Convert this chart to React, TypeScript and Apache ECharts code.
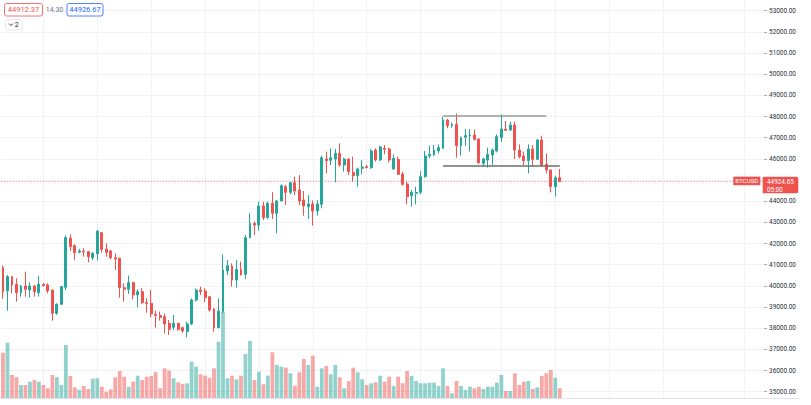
import React, { useEffect, useRef } from "react";
import * as echarts from "echarts";

// ---- data ----
const opens = [
  40861, 39759, 40436, 40074, 39680, 39995, 39806, 39995, 39680, 40074,
  40042, 39806, 38703, 39129, 39932, 42247, 41901, 41586, 41649, 41617,
  41334, 41520, 42515, 41743, 41648, 41333, 41302, 39916, 39837, 40152,
  39569, 39727, 39207, 39176, 38656, 38609, 38546, 38231, 38042, 38231,
  38026, 37837, 38200, 39332, 39805, 39758, 39490, 38907, 38025, 38781,
  40703, 40939, 40277, 40781, 40545, 42278, 42954, 42876, 43774, 43222,
  43900, 43427, 44010, 44687, 44419, 44876, 44529, 44057, 43742, 43868,
  43537, 43852, 45994, 45931, 45994, 46262, 45711, 45994, 45364, 45207,
  45553, 45632, 45585, 46419, 45950, 46498, 46466, 45521, 45978, 45285,
  44812, 44261, 44371, 44418, 45159, 46135, 46183, 46372, 46498, 47836,
  47568, 47631, 46624, 47017, 47080, 47127, 46940, 45789, 45946, 46183,
  46372, 47002, 47411, 47364, 47600, 46419, 46135, 45915, 46466, 45978,
  46891, 45742, 45474, 44686, 45112,
];
const closes = [
  39727, 40436, 40042, 39680, 39995, 39837, 39995, 39727, 40074, 40011,
  39759, 38703, 39129, 39963, 42279, 41853, 41570, 41649, 41601, 41381,
  41538, 42580, 41727, 41585, 41333, 41270, 39916, 39837, 40152, 39569,
  39727, 39207, 39160, 38672, 38609, 38514, 38199, 37947, 38231, 37947,
  37868, 38199, 39332, 39805, 39726, 39443, 38860, 38025, 38813, 40750,
  40955, 40277, 40781, 40513, 42278, 42954, 42876, 43774, 43222, 43900,
  43427, 44010, 44734, 44419, 44876, 44482, 44010, 43773, 43868, 43537,
  43868, 46057, 45915, 46057, 46262, 45711, 45994, 45396, 45207, 45522,
  45616, 45585, 46372, 45947, 46560, 46450, 45946, 46025, 45269, 44797,
  44214, 44418, 44418, 45159, 46135, 46214, 46419, 46529, 47836, 47568,
  47631, 46624, 47002, 47096, 47127, 46922, 45810, 45994, 46214, 46419,
  47049, 47411, 47348, 47600, 46419, 46104, 45915, 46466, 45978, 46891,
  45710, 45474, 44686, 45112, 44924.65,
];
const lows = [
  39381, 38829, 39648, 39255, 39491, 39491, 39444, 39491, 39491, 39963,
  39648, 38357, 38625, 39097, 39806, 41649, 41223, 41538, 41381, 41113,
  41223, 41190, 41570, 41380, 41255, 40750, 39443, 39254, 39617, 39365,
  38987, 39144, 38735, 38514, 38026, 38357, 37758, 37679, 37916, 37884,
  37790, 37569, 38150, 39254, 39569, 39222, 38781, 37836, 37994, 38702,
  40513, 39962, 39915, 40500, 40324, 42246, 42404, 42608, 43112, 43160,
  43160, 42482, 44000, 43820, 44325, 44293, 43820, 43317, 43159, 42844,
  43317, 43663, 45317, 45711, 44892, 45632, 45396, 45238, 44923, 44687,
  45270, 45553, 45522, 45868, 45900, 46214, 45836, 45474, 45238, 44734,
  43852, 43741, 43852, 44324, 45112, 46025, 46151, 46261, 46466, 47443,
  47474, 46057, 46151, 46624, 46340, 46860, 45780, 45631, 45584, 45710,
  46308, 46813, 47316, 47316, 45994, 46025, 45710, 45316, 45631, 45946,
  45631, 45316, 44418, 44214, 44910,
];
const highs = [
  40956, 40515, 40467, 40357, 40042, 40672, 40168, 40042, 40467, 40121,
  40121, 39806, 39176, 39995, 42373, 42436, 41964, 41743, 41775, 41649,
  41586, 42650, 42530, 42011, 41696, 41538, 41333, 40121, 40483, 40199,
  39837, 39884, 39412, 39806, 38829, 38782, 38703, 38388, 38625, 38262,
  38073, 38309, 39411, 39884, 39962, 39884, 39490, 38939, 39411, 41490,
  41222, 41065, 41222, 41144, 42404, 43427, 43033, 43979, 43979, 43979,
  44420, 44057, 44797, 44765, 44923, 45159, 45238, 44482, 44293, 44041,
  44057, 46152, 46341, 46498, 46467, 46734, 46057, 46025, 46104, 45585,
  45947, 45711, 46467, 46498, 46620, 46655, 46529, 46214, 46104, 45395,
  44922, 44529, 44686, 45426, 46372, 46624, 46655, 46687, 47994, 47884,
  47726, 48151, 47049, 47411, 47411, 47395, 46970, 46057, 46529, 46498,
  47159, 48104, 47789, 47757, 47757, 46687, 46340, 46687, 46655, 46938,
  47096, 46261, 45505, 45206, 45521,
];
const volumes = [
  456, 556, 233, 210, 133, 133, 166, 183, 166, 133,
  100, 233, 210, 133, 533, 223, 110, 86, 123, 93,
  196, 200, 116, 66, 90, 210, 273, 216, 116, 166,
  226, 183, 216, 223, 263, 100, 300, 276, 200, 160,
  143, 150, 366, 316, 240, 226, 206, 300, 566, 866,
  200, 226, 190, 226, 443, 573, 183, 266, 140, 226,
  460, 333, 316, 306, 250, 126, 260, 393, 333, 426,
  116, 300, 323, 240, 333, 210, 100, 173, 306, 260,
  190, 133, 150, 160, 226, 166, 216, 123, 216, 150,
  273, 223, 173, 150, 150, 156, 156, 123, 300, 123,
  50, 173, 123, 83, 116, 100, 116, 93, 116, 116,
  156, 233, 73, 73, 250, 133, 166, 173, 93, 110,
  223, 250, 283, 206, 100,
];
const lastPrice = 44924.65;
const symbolName = "BTCUSD";
const countdown = "05:00";
const legendTexts = ["44912.37", "14.30", "44926.67", "2"];
const resistance = { price: 48040, from: 98, to: 121 };
const support = { price: 45697, from: 98, to: 124 };
const verticalGridSlots = [9, 21, 33, 45, 57, 69, 81, 93, 111, 123, 135, 147, 165];
const TOTAL_SLOTS = 170;

const categories: string[] = [];
{
  const start = Date.UTC(2021, 7, 1, 0);
  for (let i = 0; i < TOTAL_SLOTS; i++) {
    const d = new Date(start + i * 4 * 3600 * 1000);
    categories.push(
      `${d.getUTCMonth() + 1}/${d.getUTCDate()} ${String(d.getUTCHours()).padStart(2, "0")}:00`
    );
  }
}

const UP = "#26a69a";
const DOWN = "#ef5350";
const UP_VOL = "rgba(38,166,154,0.5)";
const DOWN_VOL = "rgba(239,83,80,0.5)";
const GRID_LINE = "#f0f2f6";
const FONT = "Roboto, 'Liberation Sans', sans-serif";

const BAND = 4.49;
const LEFT = 3 - BAND / 2;
const WIDTH = BAND * TOTAL_SLOTS;

export default function App() {
  const ref = useRef<HTMLDivElement>(null);
  useEffect(() => {
    const chart = echarts.init(ref.current!, null, { renderer: "svg" });
    const vset = new Set(verticalGridSlots);
    const option: any = {
      animation: false,
      backgroundColor: "#ffffff",
      grid: [
        { left: LEFT, width: WIDTH, top: 10.7, height: 381, containLabel: false },
        { left: LEFT, width: WIDTH, top: 298.3, height: 100, containLabel: false },
        { left: 3, width: BAND * (TOTAL_SLOTS - 1), top: 0, height: 398.3, containLabel: false },
      ],
      xAxis: [
        {
          type: "category", gridIndex: 0, data: categories, boundaryGap: true,
          axisLine: { show: false }, axisTick: { show: false }, axisLabel: { show: false },
          splitLine: { show: false },
        },
        {
          type: "category", gridIndex: 1, data: categories, boundaryGap: true,
          axisLine: { show: false }, axisTick: { show: false }, axisLabel: { show: false },
          splitLine: { show: false },
        },
        {
          type: "category", gridIndex: 2, data: categories, boundaryGap: false,
          axisLine: { show: false }, axisTick: { show: false }, axisLabel: { show: false },
          splitLine: {
            show: true,
            interval: (idx: number) => vset.has(idx),
            lineStyle: { color: GRID_LINE, width: 1 },
          },
        },
      ],
      yAxis: [
        {
          type: "value", gridIndex: 0, position: "right", min: 35000, max: 53000, interval: 1000,
          axisLine: { show: false },
          axisTick: { show: true, length: 3, lineStyle: { color: "#9598a1", width: 0.8 } },
          axisLabel: {
            show: true, fontSize: 6.4, color: "#2a2e39", fontFamily: FONT, margin: 5,
            showMinLabel: true, showMaxLabel: true,
            // the tick label hidden behind the last-price tag is left empty
            formatter: (v: number) => (Math.abs(v - lastPrice) < 500 ? "" : v.toFixed(2)),
          },
          splitLine: { show: true, lineStyle: { color: GRID_LINE, width: 1 } },
        },
        { type: "value", gridIndex: 1, min: 0, max: 1000, show: false },
        { type: "value", gridIndex: 2, min: 0, max: 1, show: false },
      ],
      series: [
        {
          type: "bar",
          xAxisIndex: 1, yAxisIndex: 1,
          barWidth: 3.8,
          z: 1,
          data: volumes.map((v, i) => ({
            value: v,
            itemStyle: { color: closes[i] >= opens[i] ? UP_VOL : DOWN_VOL },
          })),
        },
        {
          type: "candlestick",
          xAxisIndex: 0, yAxisIndex: 0,
          barWidth: 2.4,
          z: 3,
          itemStyle: {
            color: UP, color0: DOWN, borderColor: UP, borderColor0: DOWN, borderWidth: 1,
          },
          data: opens.map((o, i) => [o, closes[i], lows[i], highs[i]]),
          markLine: {
            silent: true,
            symbol: ["none", "none"],
            label: { show: false },
            data: [
              {
                yAxis: lastPrice,
                lineStyle: { color: DOWN, type: [1, 2], width: 1, opacity: 0.75 },
              },
              [
                {
                  coord: [categories[resistance.from], resistance.price],
                  lineStyle: { color: "#9a9a9a", type: "solid", width: 1.6 },
                },
                { coord: [categories[resistance.to], resistance.price] },
              ],
              [
                {
                  coord: [categories[support.from], support.price],
                  lineStyle: { color: "#6e6e6e", type: "solid", width: 1.6 },
                },
                { coord: [categories[support.to], support.price] },
              ],
            ],
          },
        },
      ],
    };
    chart.setOption(option);

    const py = chart.convertToPixel({ yAxisIndex: 0 }, lastPrice) as number;
    const txt = (text: string, x: number, y: number, fill: string, size: number, align = "center") => ({
      type: "text", z: 100,
      style: { text, x, y, fill, font: `${size}px ${FONT}`, align, verticalAlign: "middle" },
    });
    chart.setOption({
      graphic: [
        { type: "line", z: 50, shape: { x1: 0, y1: 398.5, x2: 800, y2: 398.5 }, style: { stroke: "#e0e3eb", lineWidth: 1 } },
        { type: "rect", z: 99, shape: { x: 4.5, y: 3.5, width: 38, height: 12.5, r: 2 }, style: { fill: "#fff", stroke: DOWN, lineWidth: 0.8 } },
        txt(legendTexts[0], 23.5, 9.9, DOWN, 7.5),
        txt(legendTexts[1], 54.5, 9.9, "#787b86", 7),
        { type: "rect", z: 99, shape: { x: 67, y: 3.5, width: 36, height: 12.5, r: 2 }, style: { fill: "#fff", stroke: "#2962ff", lineWidth: 0.8 } },
        txt(legendTexts[2], 85, 9.9, "#2962ff", 7.5),
        { type: "rect", z: 99, shape: { x: 5.5, y: 19.5, width: 17, height: 10.5, r: 2 }, style: { fill: "#fff", stroke: "#e0e3eb", lineWidth: 0.8 } },
        { type: "polyline", z: 100, shape: { points: [[9, 23.6], [11, 25.6], [13, 23.6]] }, style: { stroke: "#131722", lineWidth: 0.8, fill: "none" } },
        txt(legendTexts[3], 16.8, 25, "#131722", 7),
        { type: "rect", z: 99, shape: { x: 733.3, y: py - 5, width: 27, height: 8.6 }, style: { fill: DOWN } },
        txt(symbolName, 746.8, py - 0.7, "#ffffff", 6.2),
        { type: "rect", z: 99, shape: { x: 762.7, y: py - 5, width: 35.6, height: 16.7, r: [0, 2, 2, 0] }, style: { fill: DOWN } },
        txt(lastPrice.toFixed(2), 767, py, "#ffffff", 6.4, "left"),
        txt(countdown, 767, py + 8.4, "#ffffff", 6.4, "left"),
      ],
    });
    return () => chart.dispose();
  }, []);
  return (
    <div
      ref={ref}
      style={{ position: "fixed", left: 0, top: 0, width: 811, height: 405, background: "#fff" }}
    />
  );
}
